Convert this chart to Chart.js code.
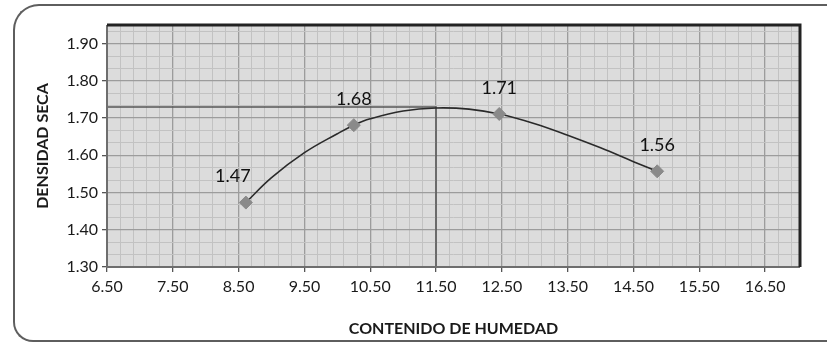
<!DOCTYPE html>
<html>
<head>
<meta charset="utf-8">
<script src="https://cdn.jsdelivr.net/npm/chart.js@4.4.1/dist/chart.umd.min.js"></script>
<style>
  html, body { margin: 0; padding: 0; background: #fff; overflow: hidden; }
  #wrap { position: relative; width: 827px; height: 345px; }
  #frame {
    position: absolute; left: 13px; top: 4px; width: 840px; height: 334px;
    border: 2px solid #5e5e5e; border-right: none;
    border-radius: 26px 0 0 20px;
  }
  canvas { position: absolute; left: 0; top: 0; }
</style>
</head>
<body>
<div id="wrap">
  <div id="frame"></div>
  <canvas id="chart" width="827" height="345"></canvas>
</div>
<script>
// proctor test points (moisture %, dry density)
const moisture = [8.61, 10.25, 12.46, 14.86]
const density = [1.473, 1.681, 1.711, 1.557]

// fitted curve
const curveX = [8.61, 9.0, 9.5, 10.0, 10.25, 10.5, 11.0, 11.5, 12.0, 12.46, 13.0, 13.5, 14.0, 14.5, 14.86]
const curveY = [1.473, 1.540, 1.607, 1.658, 1.681, 1.698, 1.719, 1.727, 1.724, 1.711, 1.685, 1.654, 1.620, 1.583, 1.557]

// optimum moisture / max dry density guide line
const guideX = [6.5, 11.5, 11.5]
const guideY = [1.73, 1.73, 1.30]

const xTicks = [6.5, 7.5, 8.5, 9.5, 10.5, 11.5, 12.5, 13.5, 14.5, 15.5, 16.5]
const yTicks = [1.3, 1.4, 1.5, 1.6, 1.7, 1.8, 1.9]

const toPoints = (xs, ys) => xs.map((x, i) => ({x, y: ys[i]}))
const isMajor = (v, list) => list.some(t => Math.abs(t - v) < 1e-6)

// major ticks plus the fine graph-paper lines in between
function withMinor(majors, step, parts, max) {
  const out = []
  majors.forEach(m => {
    for (let k = 0; k < parts; k++) {
      const v = m + step * k / parts
      if (v <= max + 1e-9) out.push({value: v})
    }
  })
  return out
}

const plotStyle = {
  id: 'plotStyle',
  beforeDraw(chart) {
    const {ctx, chartArea: a} = chart
    ctx.save()
    ctx.fillStyle = '#dcdcdc'
    ctx.fillRect(a.left, a.top, a.right - a.left, a.bottom - a.top)
    ctx.restore()
  },
  afterDraw(chart) {
    const {ctx, chartArea: a} = chart
    ctx.save()
    ctx.strokeStyle = '#6e6e6e'
    ctx.lineWidth = 2
    ctx.beginPath()
    ctx.moveTo(a.left, a.top)
    ctx.lineTo(a.left, a.bottom)
    ctx.lineTo(a.right, a.bottom)
    ctx.stroke()
    ctx.strokeStyle = '#222'
    ctx.lineWidth = 3
    ctx.beginPath()
    ctx.moveTo(a.left, a.top)
    ctx.lineTo(a.right, a.top)
    ctx.lineTo(a.right, a.bottom)
    ctx.stroke()

    // value labels above the points
    const meta = chart.getDatasetMeta(0)
    ctx.font = '18px Lato'
    ctx.fillStyle = '#111'
    ctx.textAlign = 'center'
    ctx.textBaseline = 'middle'
    meta.data.forEach((pt, i) => {
      const dx = i === 0 ? -13 : 0
      ctx.fillText(density[i].toFixed(2), pt.x + dx, pt.y - 26)
    })
    ctx.restore()
  }
}

const ctx = document.getElementById('chart')

new Chart(ctx, {
  type: 'scatter',
  data: {
    datasets: [
      {
        data: toPoints(moisture, density),
        pointStyle: 'rectRot',
        pointRadius: 6.5,
        backgroundColor: '#8a8a8a',
        borderColor: '#8a8a8a',
        showLine: false
      },
      {
        data: toPoints(curveX, curveY),
        showLine: true,
        borderColor: '#2a2a2a',
        borderWidth: 1.6,
        pointRadius: 0,
        tension: 0.4
      },
      {
        data: toPoints(guideX, guideY),
        showLine: true,
        borderColor: '#555',
        borderWidth: 1.5,
        pointRadius: 0
      }
    ]
  },
  options: {
    responsive: false,
    animation: false,
    layout: {padding: {top: 25, right: 27, left: 0, bottom: 0}},
    plugins: {legend: {display: false}, tooltip: {enabled: false}},
    scales: {
      x: {
        type: 'linear',
        min: 6.5,
        max: 17.03,
        afterBuildTicks: s => { s.ticks = withMinor(xTicks, 1, 5, 17.03) },
        afterFit: s => { s.height = 78 },
        border: {display: false},
        grid: {
          color: c => isMajor(c.tick.value, xTicks) ? '#9c9c9c' : '#c2c2c2',
          lineWidth: c => isMajor(c.tick.value, xTicks) ? 1.3 : 1,
          tickColor: c => isMajor(c.tick.value, xTicks) ? '#555' : 'rgba(0,0,0,0)',
          tickLength: 5
        },
        ticks: {
          autoSkip: false,
          maxRotation: 0,
          padding: 5,
          color: '#1a1a1a',
          font: {family: 'Lato', size: 16},
          callback: v => isMajor(v, xTicks) ? v.toFixed(2) : ''
        },
        title: {
          display: true,
          text: 'CONTENIDO DE HUMEDAD',
          color: '#1a1a1a',
          font: {family: 'Lato', size: 16, weight: 'bold'},
          padding: {top: 0, bottom: 7}
        }
      },
      y: {
        min: 1.3,
        max: 1.95,
        afterBuildTicks: s => { s.ticks = withMinor(yTicks, 0.1, 3, 1.95) },
        afterFit: s => { s.width = 107 },
        border: {display: false},
        grid: {
          color: c => isMajor(c.tick.value, yTicks) ? '#9c9c9c' : '#c2c2c2',
          lineWidth: c => isMajor(c.tick.value, yTicks) ? 1.3 : 1,
          tickColor: c => isMajor(c.tick.value, yTicks) ? '#555' : 'rgba(0,0,0,0)',
          tickLength: 5
        },
        ticks: {
          autoSkip: false,
          padding: 4,
          color: '#1a1a1a',
          font: {family: 'Lato', size: 16},
          callback: v => isMajor(v, yTicks) ? v.toFixed(2) : ''
        },
        title: {
          display: true,
          text: 'DENSIDAD SECA',
          color: '#1a1a1a',
          font: {family: 'Lato', size: 16, weight: 'bold'},
          padding: {top: 33, bottom: 0}
        }
      }
    }
  },
  plugins: [plotStyle]
})
</script>
</body>
</html>
